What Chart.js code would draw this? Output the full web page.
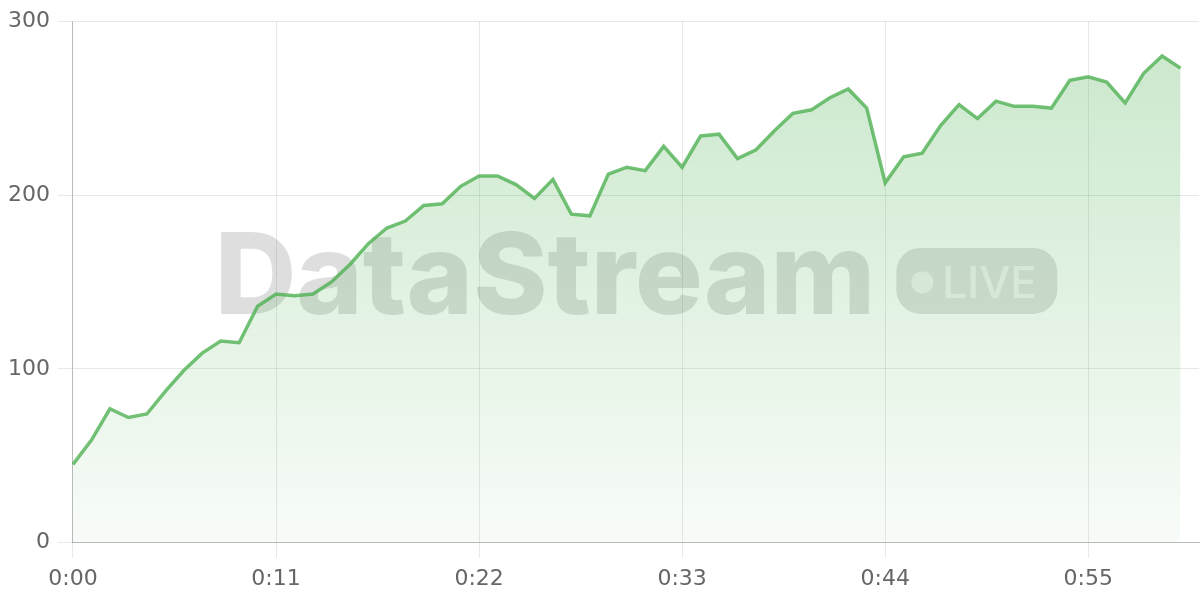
<!DOCTYPE html>
<html>
<head>
<meta charset="utf-8">
<script src="https://cdn.jsdelivr.net/npm/chart.js@4.4.1/dist/chart.umd.min.js"></script>
<style>
  html, body { margin: 0; padding: 0; background: #fff; }
  #wrap { width: 1200px; height: 600px; }
</style>
</head>
<body>
<div id="wrap"><canvas id="stream"></canvas></div>
<script>
const timeLabels = [
  '0:00','0:01','0:02','0:03','0:04','0:05','0:06','0:07','0:08','0:09',
  '0:10','0:11','0:12','0:13','0:14','0:15','0:16','0:17','0:18','0:19',
  '0:20','0:21','0:22','0:23','0:24','0:25','0:26','0:27','0:28','0:29',
  '0:30','0:31','0:32','0:33','0:34','0:35','0:36','0:37','0:38','0:39',
  '0:40','0:41','0:42','0:43','0:44','0:45','0:46','0:47','0:48','0:49',
  '0:50','0:51','0:52','0:53','0:54','0:55','0:56','0:57','0:58','0:59',
  '1:00','1:01'
]

const streamValues = [
  45, 59, 77, 72, 74, 87, 99, 109, 116, 115,
  136, 143, 142, 143, 150, 160, 172, 181, 185, 194,
  195, 205, 211, 211, 206, 198, 209, 189, 188, 212,
  216, 214, 228, 216, 234, 235, 221, 226, 237, 247,
  249, 256, 261, 250, 207, 222, 224, 240, 252, 244,
  254, 251, 251, 250, 266, 268, 265, 253, 270, 280,
  273
]

const yTicks = [0, 100, 200, 300]
const labelEvery = 11

// watermark drawn under the line so the fill tints it
const watermark = {
  id: 'watermark',
  beforeDatasetsDraw(chart) {
    const { ctx, chartArea: a } = chart
    const cx = (a.left + a.right) / 2
    const cy = (a.top + a.bottom) / 2
    ctx.save()
    ctx.font = '800 113px Inter'
    ctx.textBaseline = 'alphabetic'
    const word = 'DataStream'
    const wordW = ctx.measureText(word).width
    const pillW = 161, pillH = 66, gap = 21
    const total = wordW + gap + pillW
    const x0 = cx - total / 2
    ctx.fillStyle = 'rgba(0,0,0,0.13)'
    ctx.fillText(word, x0, cy + 32)
    const px = x0 + wordW + gap, py = cy - 34
    ctx.beginPath()
    ctx.roundRect(px, py, pillW, pillH, 24)
    ctx.fillStyle = 'rgba(0,0,0,0.12)'
    ctx.fill()
    ctx.fillStyle = 'rgba(255,255,255,0.6)'
    ctx.beginPath()
    ctx.arc(px + 26, cy + 0.5, 11, 0, Math.PI * 2)
    ctx.fill()
    ctx.font = '500 44px Inter'
    ctx.fillText('LIVE', px + 46, cy + 16)
    ctx.restore()
  }
}

const ctx = document.getElementById('stream')

new Chart(ctx, {
  type: 'line',
  data: {
    labels: timeLabels,
    datasets: [{
      label: 'stream',
      data: streamValues,
      borderColor: 'rgba(76, 175, 80, 0.78)',
      borderWidth: 3.5,
      pointRadius: 0,
      tension: 0,
      fill: 'origin',
      backgroundColor(c) {
        const a = c.chart.chartArea
        if (!a) return 'rgba(76,175,80,0.2)'
        const g = c.chart.ctx.createLinearGradient(0, a.top, 0, a.bottom)
        g.addColorStop(0, 'rgba(76, 175, 80, 0.3)')
        g.addColorStop(1, 'rgba(76, 175, 80, 0.04)')
        return g
      }
    }]
  },
  options: {
    responsive: true,
    maintainAspectRatio: false,
    animation: false,
    layout: { padding: { top: 5, right: 1 } },
    plugins: {
      legend: { display: false },
      tooltip: { enabled: false }
    },
    scales: {
      x: {
        ticks: {
          autoSkip: false,
          maxRotation: 0,
          color: '#666',
          font: { family: 'DejaVu Sans', size: 22 },
          padding: 8,
          callback(v, i) {
            return i % labelEvery === 0 && i < streamValues.length ? timeLabels[i] : null
          }
        },
        grid: { color: 'rgba(0,0,0,0.09)', tickLength: 15 },
        border: { color: 'rgba(0,0,0,0.2)' }
      },
      y: {
        min: yTicks[0],
        max: yTicks[yTicks.length - 1],
        afterBuildTicks(scale) {
          scale.ticks = yTicks.map(v => ({ value: v }))
        },
        ticks: {
          color: '#666',
          font: { family: 'DejaVu Sans', size: 22 },
          padding: 8
        },
        grid: { color: 'rgba(0,0,0,0.09)', tickLength: 15 },
        border: { color: 'rgba(0,0,0,0.2)' }
      }
    }
  },
  plugins: [watermark]
})
</script>
</body>
</html>
